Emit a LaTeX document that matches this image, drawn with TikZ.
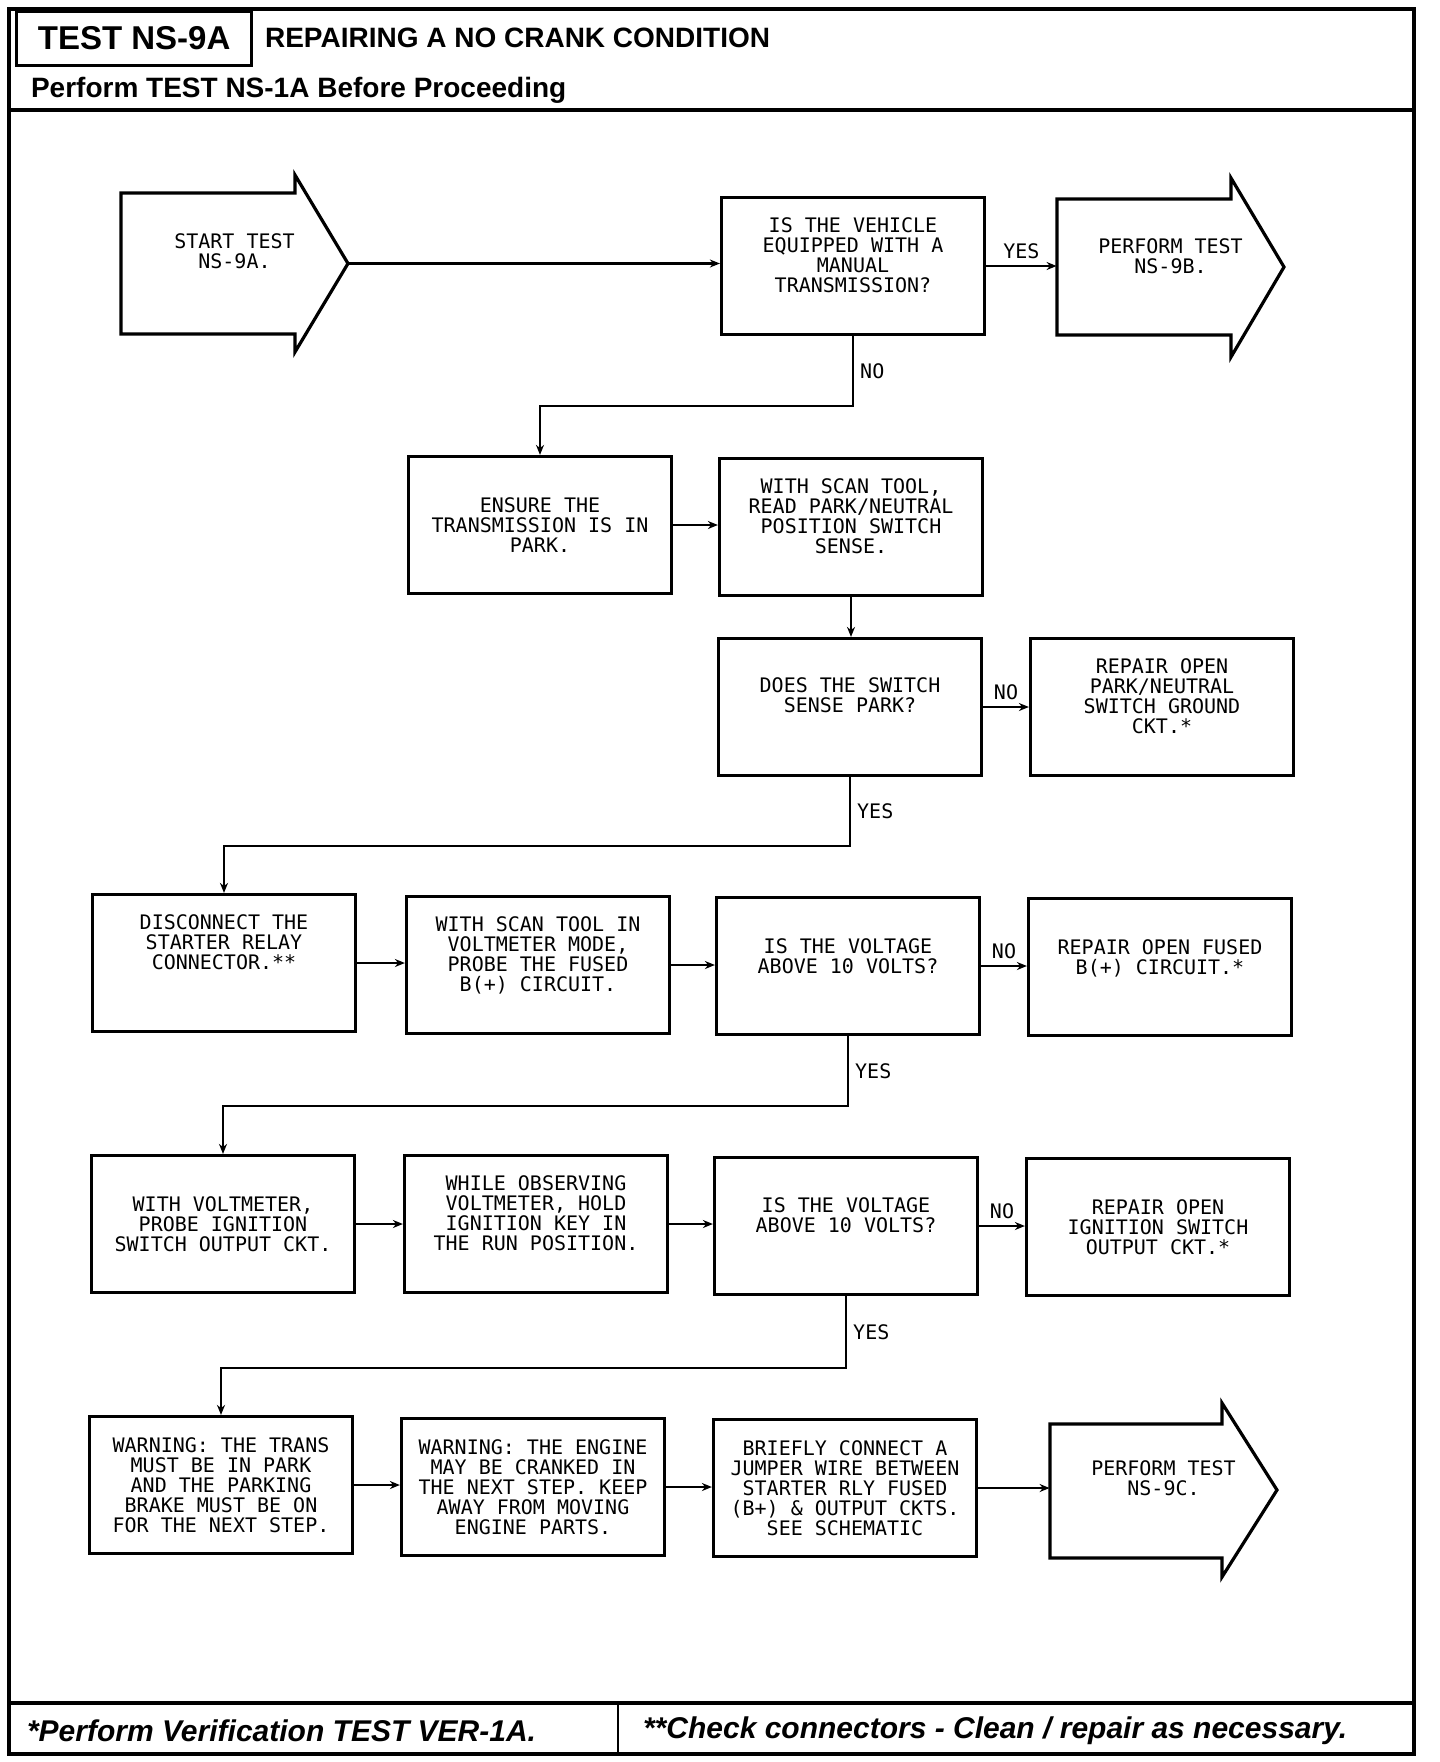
\documentclass[tikz,border=0pt]{standalone}
\usepackage{fontspec}
\setmainfont{Liberation Sans}
\newfontfamily\plotfont{DejaVu Sans Mono}
\usetikzlibrary{arrows.meta,positioning,calc}
% empty last line that lifts the text in its box
\newcommand\gap[1]{\\[#1]\mbox{}}

\begin{document}
\begin{tikzpicture}[x=0.5pt,y=-0.5pt,>={Stealth[length=5pt,width=4pt]},
  font=\plotfont\fontsize{10}{10}\selectfont,
  stepbox/.style={draw,line width=1.6pt,minimum width=131.5pt,minimum height=68.5pt,align=center,inner sep=2pt},
  arrowbody/.style={minimum width=113.5pt,minimum height=68pt,align=center,inner sep=0pt},
  blockarrow/.style={draw,line width=1.6pt,line join=miter},
  conn/.style={->,line width=1.2pt},
  answer/.style={inner sep=3pt}]
\useasboundingbox (0,0) rectangle (1440,1762);

% frame, header and footer
\draw[line width=1.7pt] (9,9) rectangle (1414,1754);
\node[draw,line width=1.6pt,anchor=north west,minimum width=117.5pt,minimum height=27pt,
  font=\normalfont\bfseries\fontsize{16.5}{16.5}\selectfont] (testid) at (15,10) {TEST NS-9A};
\node[anchor=west,font=\normalfont\bfseries\fontsize{14}{14}\selectfont] (title) at (258,38) {REPAIRING A NO CRANK CONDITION};
\node[anchor=west,font=\normalfont\bfseries\fontsize{14}{14}\selectfont] (before) at (24,90) {Perform TEST NS-1A Before Proceeding};
\draw[line width=1.7pt] (9,110) -- (1414,110);
\draw[line width=1.7pt] (9,1703) -- (1414,1703);
\draw[line width=1.2pt] (618,1703) -- (618,1754);
\node[anchor=west,font=\normalfont\bfseries\itshape\fontsize{15}{15}\selectfont] (verify) at (20,1731) {*Perform Verification TEST VER-1A.};
\node[anchor=west,font=\normalfont\bfseries\itshape\fontsize{15}{15}\selectfont] (check) at (636,1731) {**Check connectors - Clean / repair as necessary.};

% row 1
\node[arrowbody] (start) at (234.5,263.5) {START TEST\\NS-9A.\gap{2pt}};
\draw[blockarrow] (121,193) -- (295,193) -- (295,175) -- (348,263.5) -- (295,352) -- (295,334) -- (121,334) -- cycle;
\node[stepbox] (manual) at (853,266) {IS THE VEHICLE\\EQUIPPED WITH A\\MANUAL\\TRANSMISSION?\gap{1pt}};
\node[arrowbody] (nsnineb) at (1170.5,267) {PERFORM TEST\\NS-9B.\gap{1pt}};
\draw[blockarrow] (1057,199) -- (1231,199) -- (1231,178) -- (1284,267) -- (1231,357) -- (1231,335) -- (1057,335) -- cycle;

% rows 2 and 3
\node[stepbox] (park) at (540,525) {ENSURE THE\\TRANSMISSION IS IN\\PARK.};
\node[stepbox] (readpn) at (851,527) {WITH SCAN TOOL,\\READ PARK/NEUTRAL\\POSITION SWITCH\\SENSE.\gap{1pt}};
\node[stepbox] (sense) at (850,707) {DOES THE SWITCH\\SENSE PARK?\gap{2pt}};
\node[stepbox] (repairpn) at (1162,707) {REPAIR OPEN\\PARK/NEUTRAL\\SWITCH GROUND\\CKT.*\gap{1pt}};

% row 4
\node[stepbox] (relay) at (224,963) {DISCONNECT THE\\STARTER RELAY\\CONNECTOR.**\gap{11pt}};
\node[stepbox] (probefused) at (538,965) {WITH SCAN TOOL IN\\VOLTMETER MODE,\\PROBE THE FUSED\\B(+) CIRCUIT.\gap{1pt}};
\node[stepbox] (volts) at (848,966) {IS THE VOLTAGE\\ABOVE 10 VOLTS?\gap{0pt}};
\node[stepbox] (repairfused) at (1160,967) {REPAIR OPEN FUSED\\B(+) CIRCUIT.*\gap{0pt}};

% row 5
\node[stepbox] (probeign) at (223,1224) {WITH VOLTMETER,\\PROBE IGNITION\\SWITCH OUTPUT CKT.};
\node[stepbox] (runkey) at (536,1224) {WHILE OBSERVING\\VOLTMETER, HOLD\\IGNITION KEY IN\\THE RUN POSITION.\gap{1pt}};
\node[stepbox] (voltsrun) at (846,1226) {IS THE VOLTAGE\\ABOVE 10 VOLTS?\gap{1pt}};
\node[stepbox] (repairign) at (1158,1227) {REPAIR OPEN\\IGNITION SWITCH\\OUTPUT CKT.*};

% row 6
\node[stepbox] (warntrans) at (221,1485) {WARNING: THE TRANS\\MUST BE IN PARK\\AND THE PARKING\\BRAKE MUST BE ON\\FOR THE NEXT STEP.};
\node[stepbox] (warnengine) at (533,1487) {WARNING: THE ENGINE\\MAY BE CRANKED IN\\THE NEXT STEP. KEEP\\AWAY FROM MOVING\\ENGINE PARTS.};
\node[stepbox] (jumper) at (845,1488) {BRIEFLY CONNECT A\\JUMPER WIRE BETWEEN\\STARTER RLY FUSED\\(B+) \& OUTPUT CKTS.\\SEE SCHEMATIC};
\node[arrowbody] (nsninec) at (1163.5,1491) {PERFORM TEST\\NS-9C.\gap{3pt}};
\draw[blockarrow] (1050,1424) -- (1222,1424) -- (1222,1403) -- (1277,1490) -- (1222,1577) -- (1222,1558) -- (1050,1558) -- cycle;

% connectors
\draw[conn] (start.east) -- (manual.west |- start.east);
\draw[conn] (manual.east) -- node[answer,above]{YES} (nsnineb.west |- manual.east);
\draw[conn] (manual.south) -- node[answer,right]{NO} ++(0,70) -| (park.north);
\draw[conn] (park.east) -- (readpn.west |- park.east);
\draw[conn] (readpn.south) -- (sense.north -| readpn.south);
\draw[conn] (sense.east) -- node[answer,above]{NO} (repairpn.west |- sense.east);
\draw[conn] (sense.south) -- node[answer,right]{YES} ++(0,69) -| (relay.north);
\draw[conn] (relay.east) -- (probefused.west |- relay.east);
\draw[conn] (probefused.east) -- (volts.west |- probefused.east);
\draw[conn] (volts.east) -- node[answer,above]{NO} (repairfused.west |- volts.east);
\draw[conn] (volts.south) -- node[answer,right]{YES} ++(0,70) -| (probeign.north);
\draw[conn] (probeign.east) -- (runkey.west |- probeign.east);
\draw[conn] (runkey.east) -- (voltsrun.west |- runkey.east);
\draw[conn] (voltsrun.east) -- node[answer,above]{NO} (repairign.west |- voltsrun.east);
\draw[conn] (voltsrun.south) -- node[answer,right]{YES} ++(0,72) -| (warntrans.north);
\draw[conn] (warntrans.east) -- (warnengine.west |- warntrans.east);
\draw[conn] (warnengine.east) -- (jumper.west |- warnengine.east);
\draw[conn] (jumper.east) -- (nsninec.west |- jumper.east);
\end{tikzpicture}
\end{document}
